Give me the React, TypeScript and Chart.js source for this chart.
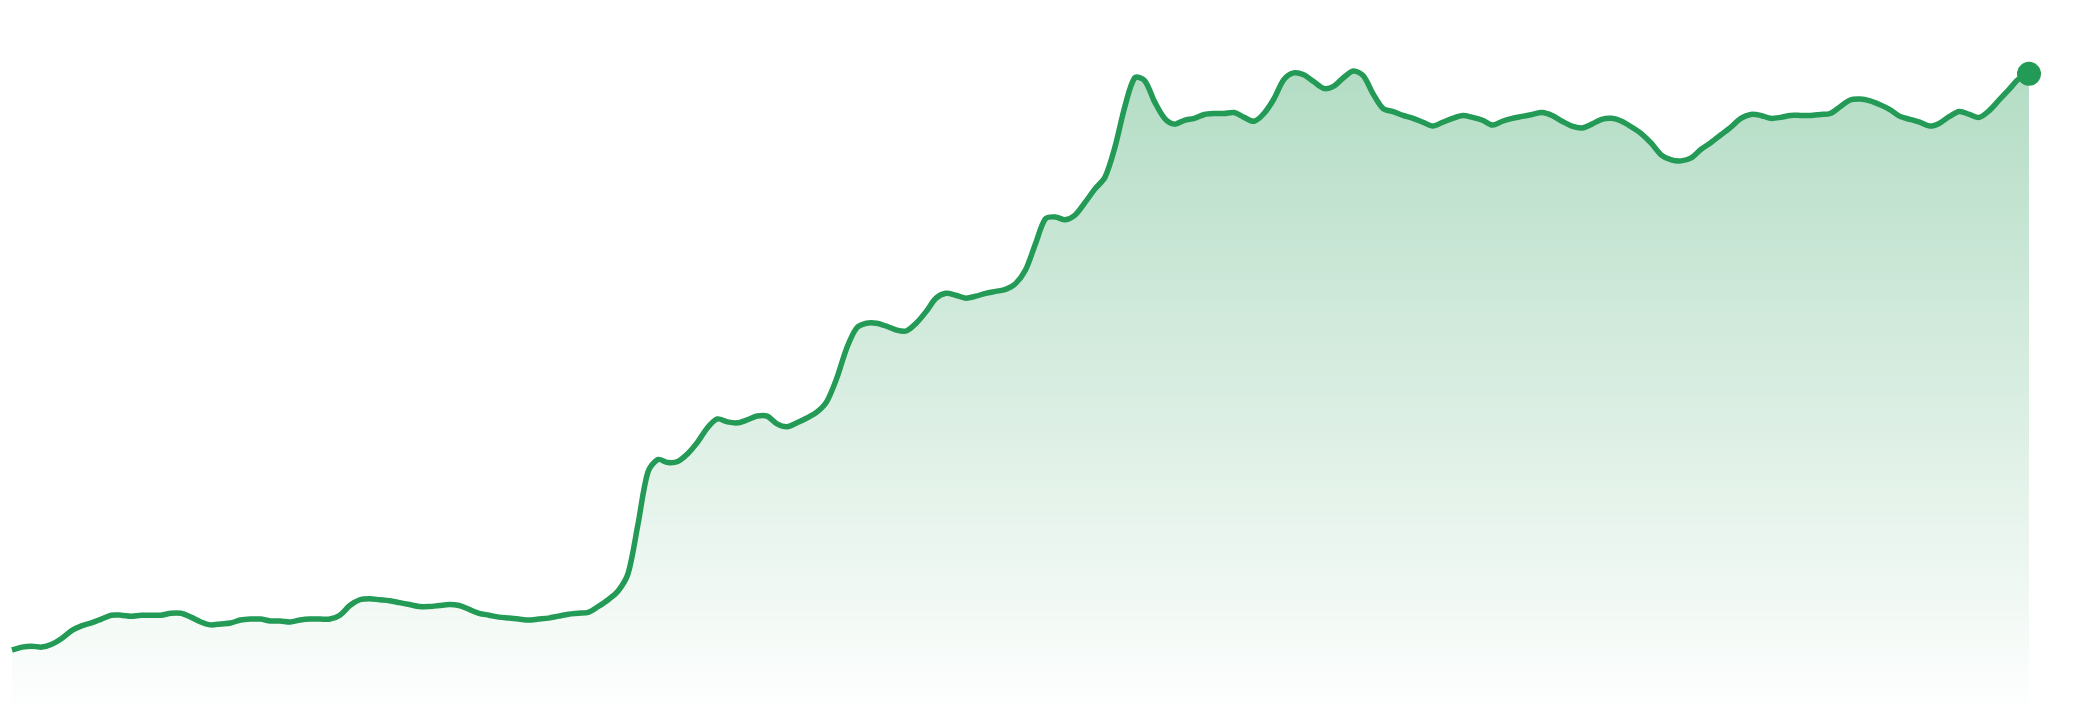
import { useEffect, useRef } from 'react';
import Chart from 'chart.js/auto';

// one reading every ~10px across the chart, left to right
const values: number[] = [
  60, 63, 64, 63, 66, 72, 80, 85, 88, 92,
  96, 96, 95, 96, 96, 96, 98, 98, 94, 89,
  86, 87, 88, 91, 92, 92, 90, 90, 89, 91,
  92, 92, 92, 96, 106, 112, 113, 112, 111, 109,
  107, 105, 105, 106, 107, 106, 102, 98, 96, 94,
  93, 92, 91, 92, 93, 95, 97, 98, 99, 105,
  112, 121, 139, 190, 244, 257, 254, 255, 263, 275,
  290, 299, 296, 295, 298, 302, 302, 294, 291, 295,
  300, 306, 317, 341, 372, 393, 398, 398, 395, 391,
  390, 398, 410, 424, 429, 427, 424, 426, 429, 431,
  433, 439, 453, 480, 506, 508, 505, 510, 523, 537,
  549, 580, 622, 652, 649, 627, 610, 604, 608, 610,
  614, 615, 615, 616, 611, 607, 615, 630, 650, 657,
  655, 648, 641, 643, 652, 659, 654, 635, 620, 617,
  613, 610, 606, 602, 606, 610, 613, 611, 608, 603,
  607, 610, 612, 614, 616, 613, 607, 602, 600, 604,
  609, 610, 607, 601, 594, 584, 572, 567, 566, 569,
  578, 585, 593, 601, 610, 614, 613, 610, 611, 613,
  613, 613, 614, 615, 622, 629, 630, 628, 624, 619,
  612, 609, 606, 602, 605, 612, 617, 614, 611, 618,
  629, 640, 651, 656,
];

const labels: string[] = values.map((_, i) => `D${i + 1}`);

const GREEN = '#239a55';

const App: React.FC = () => {
  const chartRef = useRef<HTMLCanvasElement>(null);
  const chartInstance = useRef<Chart | null>(null);

  useEffect(() => {
    document.body.style.margin = '0';
    if (!chartRef.current) return;

    if (chartInstance.current) {
      chartInstance.current.destroy();
    }

    const ctx = chartRef.current.getContext('2d');
    if (!ctx) return;

    // fill fades from the top of the chart down to nothing at the bottom
    const gradient = ctx.createLinearGradient(0, 0, 0, 720);
    gradient.addColorStop(0, 'rgba(35, 154, 85, 0.38)');
    gradient.addColorStop(1, 'rgba(35, 154, 85, 0.0)');

    const last = values.length - 1;

    chartInstance.current = new Chart(ctx, {
      type: 'line',
      data: {
        labels,
        datasets: [
          {
            data: values,
            borderColor: GREEN,
            borderWidth: 5.5,
            backgroundColor: gradient,
            fill: 'start',
            tension: 0.3,
            pointRadius: values.map((_, i) => (i === last ? 12 : 0)),
            pointBackgroundColor: GREEN,
            pointBorderWidth: 0,
            pointHoverRadius: 0,
          },
        ],
      },
      options: {
        responsive: false,
        animation: false,
        layout: { padding: { left: 0, right: 51, top: 0, bottom: 0 } },
        scales: {
          x: { display: false, offset: false },
          y: { display: false, min: 0, max: 720 },
        },
        plugins: {
          legend: { display: false },
          tooltip: { enabled: false },
        },
      },
    });

    return () => {
      if (chartInstance.current) {
        chartInstance.current.destroy();
        chartInstance.current = null;
      }
    };
  }, []);

  return (
    <div style={{ position: 'fixed', left: 0, top: 0, width: 2080, height: 720, background: '#fff' }}>
      <canvas ref={chartRef} width={2080} height={720} style={{ display: 'block' }}></canvas>
    </div>
  );
};

export default App;
